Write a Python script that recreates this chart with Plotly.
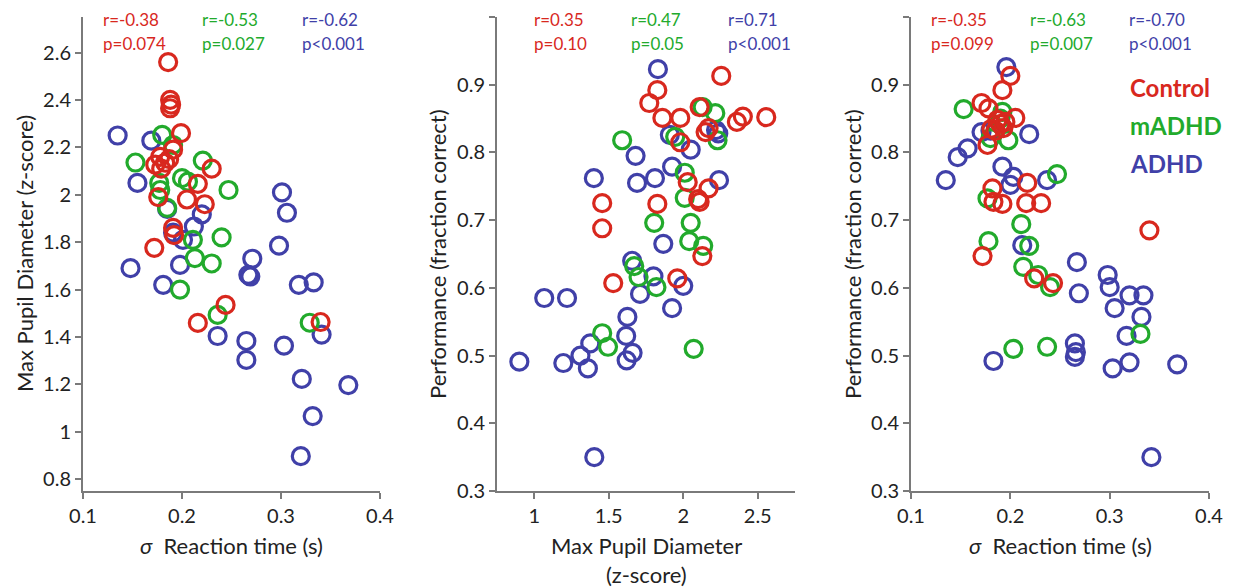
import plotly.graph_objects as go

# ---------------- data ----------------
groups = ["Control", "mADHD", "ADHD"]
group_colors = ["#d8281e", "#22aa2c", "#4040a8"]

# Panel 1: sigma reaction time (s) vs max pupil diameter (z-score)
p1_ctrl_rt = [0.186, 0.188, 0.189, 0.188, 0.199, 0.191, 0.178, 0.173, 0.183, 0.179, 0.187, 0.230,
              0.216, 0.176, 0.205, 0.223, 0.191, 0.192, 0.172, 0.244, 0.216, 0.340]
p1_ctrl_pupil = [2.56, 2.40, 2.38, 2.365, 2.26, 2.19, 2.16, 2.127, 2.135, 2.11, 2.15, 2.11,
                 2.046, 1.99, 1.98, 1.96, 1.86, 1.83, 1.776, 1.535, 1.459, 1.463]
p1_madhd_rt = [0.180, 0.191, 0.153, 0.221, 0.200, 0.206, 0.177, 0.178, 0.247, 0.185, 0.211, 0.240,
               0.213, 0.230, 0.198, 0.236, 0.329]
p1_madhd_pupil = [2.253, 2.21, 2.136, 2.144, 2.07, 2.055, 2.05, 2.02, 2.02, 1.945, 1.81, 1.82,
                  1.733, 1.71, 1.60, 1.493, 1.46]
p1_adhd_rt = [0.135, 0.169, 0.155, 0.185, 0.220, 0.212, 0.201, 0.191, 0.148, 0.198, 0.181, 0.271,
              0.267, 0.269, 0.301, 0.306, 0.298, 0.318, 0.333, 0.236, 0.265, 0.265, 0.303, 0.341,
              0.321, 0.368, 0.332, 0.320]
p1_adhd_pupil = [2.25, 2.228, 2.05, 1.94, 1.917, 1.866, 1.81, 1.84, 1.69, 1.704, 1.62, 1.73,
                 1.662, 1.655, 2.01, 1.924, 1.785, 1.62, 1.63, 1.404, 1.383, 1.303, 1.363, 1.41,
                 1.223, 1.197, 1.066, 0.897]

# Panel 2: max pupil diameter vs performance
p2_ctrl_pupil = [2.255, 1.826, 1.772, 1.86, 1.98, 2.11, 2.17, 2.15, 2.36, 2.40, 2.557, 1.98,
                 2.03, 2.17, 2.11, 2.10, 1.456, 1.456, 1.826, 2.128, 1.53, 1.96]
p2_ctrl_perf = [0.913, 0.892, 0.873, 0.851, 0.851, 0.867, 0.836, 0.830, 0.845, 0.853, 0.852, 0.815,
                0.756, 0.747, 0.727, 0.731, 0.725, 0.688, 0.724, 0.647, 0.607, 0.614]
p2_madhd_pupil = [1.59, 1.946, 2.13, 2.215, 2.23, 2.01, 2.01, 2.05, 2.04, 2.134, 1.805, 1.671,
                  1.70, 1.82, 1.456, 1.495, 2.07]
p2_madhd_perf = [0.818, 0.823, 0.867, 0.858, 0.818, 0.770, 0.733, 0.696, 0.669, 0.662, 0.696, 0.632,
                 0.616, 0.601, 0.533, 0.513, 0.510]
p2_adhd_pupil = [1.83, 1.68, 1.40, 1.69, 1.81, 1.925, 2.05, 1.91, 2.22, 2.235, 2.24, 1.866, 1.657,
                 1.80, 2.0, 1.71, 1.067, 1.22, 1.925, 1.625, 1.617, 1.376, 1.31, 1.195, 0.90, 1.36,
                 1.66, 1.62, 1.403]
p2_adhd_perf = [0.923, 0.795, 0.762, 0.755, 0.762, 0.779, 0.804, 0.826, 0.833, 0.828, 0.759, 0.665,
                0.640, 0.617, 0.603, 0.591, 0.585, 0.585, 0.570, 0.557, 0.529, 0.518, 0.50, 0.489,
                0.491, 0.481, 0.504, 0.493, 0.350]

# Panel 3: sigma reaction time vs performance
p3_ctrl_rt = [0.200, 0.192, 0.171, 0.178, 0.205, 0.187, 0.190, 0.193, 0.185, 0.181, 0.177, 0.217,
              0.182, 0.183, 0.192, 0.216, 0.231, 0.340, 0.172, 0.224, 0.243, 0.195]
p3_ctrl_perf = [0.913, 0.892, 0.873, 0.865, 0.851, 0.848, 0.842, 0.836, 0.832, 0.835, 0.811, 0.755,
                0.747, 0.727, 0.724, 0.725, 0.725, 0.685, 0.647, 0.614, 0.607, 0.845]
p3_madhd_rt = [0.153, 0.192, 0.190, 0.198, 0.180, 0.247, 0.177, 0.211, 0.178, 0.219, 0.213, 0.228,
               0.240, 0.203, 0.237, 0.331]
p3_madhd_perf = [0.864, 0.860, 0.850, 0.818, 0.821, 0.768, 0.732, 0.694, 0.669, 0.662, 0.631, 0.619,
                 0.601, 0.510, 0.513, 0.532]
p3_adhd_rt = [0.196, 0.171, 0.180, 0.219, 0.157, 0.147, 0.135, 0.192, 0.203, 0.200, 0.237, 0.212,
              0.267, 0.298, 0.300, 0.320, 0.334, 0.269, 0.305, 0.332, 0.317, 0.265, 0.265, 0.266,
              0.320, 0.303, 0.368, 0.183, 0.342]
p3_adhd_perf = [0.926, 0.830, 0.832, 0.827, 0.806, 0.793, 0.759, 0.779, 0.764, 0.752, 0.759, 0.663,
                0.638, 0.619, 0.601, 0.589, 0.589, 0.592, 0.570, 0.557, 0.529, 0.518, 0.498, 0.505,
                0.490, 0.481, 0.487, 0.492, 0.350]

# correlation labels per panel (Control, mADHD, ADHD)
p1_r = ["r=-0.38", "r=-0.53", "r=-0.62"]
p1_p = ["p=0.074", "p=0.027", "p<0.001"]
p2_r = ["r=0.35", "r=0.47", "r=0.71"]
p2_p = ["p=0.10", "p=0.05", "p<0.001"]
p3_r = ["r=-0.35", "r=-0.63", "r=-0.70"]
p3_p = ["p=0.099", "p=0.007", "p<0.001"]

# tick labels
rt_ticks = [0.1, 0.2, 0.3, 0.4]
rt_ticktext = ["0.1", "0.2", "0.3", "0.4"]
pupil_ticks = [0.8, 1.0, 1.2, 1.4, 1.6, 1.8, 2.0, 2.2, 2.4, 2.6]
pupil_ticktext = ["0.8", "1", "1.2", "1.4", "1.6", "1.8", "2", "2.2", "2.4", "2.6"]
pupil_x_ticks = [1, 1.5, 2, 2.5]
pupil_x_ticktext = ["1", "1.5", "2", "2.5"]
perf_ticks = [0.3, 0.4, 0.5, 0.6, 0.7, 0.8, 0.9, 1.0]
perf_ticktext = ["0.3", "0.4", "0.5", "0.6", "0.7", "0.8", "0.9", "1"]

# ---------------- figure ----------------
W, H = 1237, 587
OFF = 8  # page body margin offset
FONT = "Lato, Carlito, 'Open Sans', sans-serif"
TXT = "#222222"
AXC = "#7a7a7a"

fig = go.Figure()

panels = [
    ("x", "y", [(p1_ctrl_rt, p1_ctrl_pupil), (p1_madhd_rt, p1_madhd_pupil), (p1_adhd_rt, p1_adhd_pupil)]),
    ("x2", "y2", [(p2_ctrl_pupil, p2_ctrl_perf), (p2_madhd_pupil, p2_madhd_perf), (p2_adhd_pupil, p2_adhd_perf)]),
    ("x3", "y3", [(p3_ctrl_rt, p3_ctrl_perf), (p3_madhd_rt, p3_madhd_perf), (p3_adhd_rt, p3_adhd_perf)]),
]
for xa, ya, series in panels:
    for gi in [2, 1, 0]:  # draw ADHD first, Control on top
        xs, ys = series[gi]
        fig.add_trace(go.Scatter(
            x=xs, y=ys, mode="markers", xaxis=xa, yaxis=ya, showlegend=False,
            name=groups[gi],
            marker=dict(symbol="circle-open", size=17, color=group_colors[gi],
                        line=dict(width=3.2, color=group_colors[gi])),
            cliponaxis=False,
        ))

# pixel layout of plot areas (reference pixel coordinates)
px_x = [(83, 380), (497, 795), (911, 1209)]
py_top, py_bot = 17, 491
ydom = [(H - (py_bot - OFF)) / H, (H - (py_top - OFF)) / H]


def xd(a, b):
    return [(a - OFF) / W, (b - OFF) / W]


axis_common = dict(showgrid=False, zeroline=False, showline=True, linecolor=AXC, linewidth=2,
                   ticks="outside", ticklen=6, tickwidth=2, tickcolor=AXC,
                   tickfont=dict(family=FONT, size=20, color=TXT), automargin=False)

fig.update_layout(
    width=W, height=H,
    margin=dict(l=0, r=0, t=0, b=0),
    paper_bgcolor="white", plot_bgcolor="white",
    font=dict(family=FONT, color=TXT),
    xaxis=dict(domain=xd(*px_x[0]), range=[0.1, 0.4], tickvals=rt_ticks, ticktext=rt_ticktext,
               anchor="y", **axis_common),
    yaxis=dict(domain=ydom, range=[0.75, 2.75], tickvals=pupil_ticks, ticktext=pupil_ticktext,
               anchor="x", **axis_common),
    xaxis2=dict(domain=xd(*px_x[1]), range=[0.75, 2.75], tickvals=pupil_x_ticks,
                ticktext=pupil_x_ticktext, anchor="y2", **axis_common),
    yaxis2=dict(domain=ydom, range=[0.3, 1.0], tickvals=perf_ticks, ticktext=perf_ticktext,
                anchor="x2", **axis_common),
    xaxis3=dict(domain=xd(*px_x[2]), range=[0.1, 0.4], tickvals=rt_ticks, ticktext=rt_ticktext,
                anchor="y3", **axis_common),
    yaxis3=dict(domain=ydom, range=[0.3, 1.0], tickvals=perf_ticks, ticktext=perf_ticktext,
                anchor="x3", **axis_common),
)

ann = []


def pix(x, y, text, size, color=TXT, xanchor="center", yanchor="middle", angle=0, bold=False):
    if bold:
        text = "<b>" + text + "</b>"
    ann.append(dict(x=(x - OFF) / W, y=1 - (y - OFF) / H, xref="paper", yref="paper", text=text,
                    showarrow=False, xanchor=xanchor, yanchor=yanchor, textangle=angle,
                    font=dict(family=FONT, size=size, color=color)))


# r / p labels
stat_x = [[101, 200, 300], [532, 629, 726], [929, 1028, 1127]]
for (rs, ps), xs in zip([(p1_r, p1_p), (p2_r, p2_p), (p3_r, p3_p)], stat_x):
    for i in range(3):
        pix(xs[i], 19, rs[i], 17, group_colors[i], xanchor="left")
        pix(xs[i], 43, ps[i], 17, group_colors[i], xanchor="left")

# axis titles
sig = "<i>σ</i>\u00a0\u00a0Reaction time (s)"
pix(231, 545, sig, 22)
pix(1060, 545, sig, 22)
pix(646, 545, "Max Pupil Diameter", 22)
pix(646, 574, "(z-score)", 22)
pix(24, 254, "Max Pupil Diameter (z-score)", 22, angle=-90)
pix(437, 254, "Performance (fraction correct)", 22, angle=-90)
pix(852, 254, "Performance (fraction correct)", 22, angle=-90)

# group legend
for i, (g, yy) in enumerate(zip(groups, [87, 125, 163])):
    pix(1128, yy, g, 24, group_colors[i], xanchor="left", bold=True)

fig.update_layout(annotations=ann)
fig.write_html("out.html")
